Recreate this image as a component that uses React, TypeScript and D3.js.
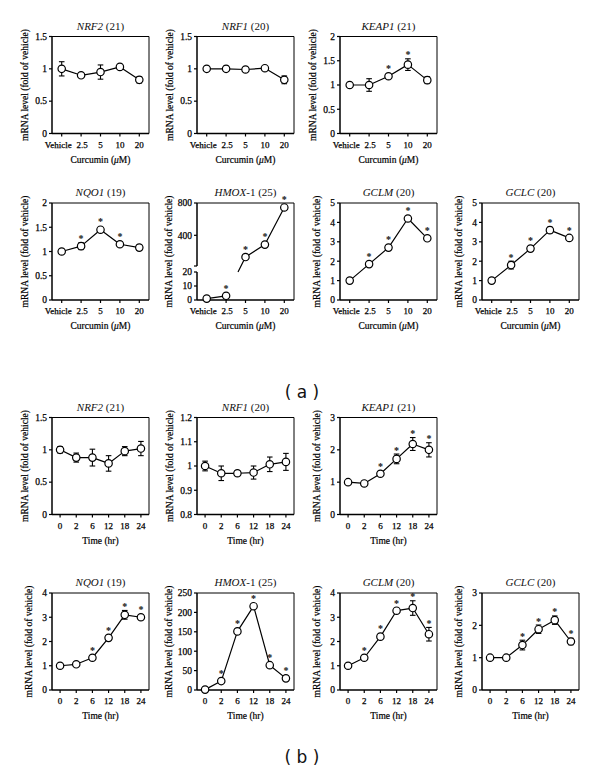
import React from "react";
import * as d3 from "d3";

// ---------- categories / tick labels ----------
const doseLabels = ["Vehicle", "2.5", "5", "10", "20"];
const timeLabels = ["0", "2", "6", "12", "18", "24"];

// ---------- (a) curcumin dose series ----------
const doseNRF2 = [1.0, 0.9, 0.95, 1.03, 0.83];
const doseNRF2Err = [0.11, 0.015, 0.11, 0.015, 0.05];
const doseNRF2Sig = [0, 0, 0, 0, 0];

const doseNRF1 = [1.0, 1.0, 0.99, 1.01, 0.83];
const doseNRF1Err = [0.01, 0.04, 0.03, 0.01, 0.06];
const doseNRF1Sig = [0, 0, 0, 0, 0];

const doseKEAP1 = [1.0, 1.0, 1.18, 1.42, 1.1];
const doseKEAP1Err = [0.01, 0.13, 0.03, 0.12, 0.07];
const doseKEAP1Sig = [0, 0, 1, 1, 0];

const doseNQO1 = [1.0, 1.11, 1.45, 1.15, 1.08];
const doseNQO1Err = [0.01, 0.07, 0.03, 0.02, 0.05];
const doseNQO1Sig = [0, 1, 1, 1, 0];

const doseHMOX1 = [1, 3, 131, 285, 745];
const doseHMOX1Err = [0.3, 0.5, 4, 6, 12];
const doseHMOX1Sig = [0, 1, 1, 1, 1];

const doseGCLM = [1.0, 1.85, 2.7, 4.2, 3.18];
const doseGCLMErr = [0.02, 0.06, 0.06, 0.1, 0.06];
const doseGCLMSig = [0, 1, 1, 1, 1];

const doseGCLC = [1.0, 1.8, 2.65, 3.6, 3.2];
const doseGCLCErr = [0.02, 0.2, 0.08, 0.15, 0.1];
const doseGCLCSig = [0, 1, 1, 1, 1];

// ---------- (b) time course series ----------
const timeNRF2 = [1.0, 0.88, 0.88, 0.79, 0.98, 1.02];
const timeNRF2Err = [0.05, 0.07, 0.13, 0.12, 0.07, 0.11];
const timeNRF2Sig = [0, 0, 0, 0, 0, 0];

const timeNRF1 = [1.0, 0.97, 0.97, 0.973, 1.007, 1.017];
const timeNRF1Err = [0.02, 0.03, 0.01, 0.027, 0.03, 0.035];
const timeNRF1Sig = [0, 0, 0, 0, 0, 0];

const timeKEAP1 = [1.0, 0.96, 1.26, 1.72, 2.18, 2.0];
const timeKEAP1Err = [0.02, 0.07, 0.03, 0.15, 0.2, 0.22];
const timeKEAP1Sig = [0, 0, 1, 1, 1, 1];

const timeNQO1 = [1.0, 1.06, 1.33, 2.15, 3.1, 3.0];
const timeNQO1Err = [0.02, 0.07, 0.05, 0.06, 0.18, 0.1];
const timeNQO1Sig = [0, 0, 1, 1, 1, 1];

const timeHMOX1 = [1, 23, 151, 216, 64, 30];
const timeHMOX1Err = [0.5, 3, 5, 6, 4, 3];
const timeHMOX1Sig = [0, 1, 1, 1, 1, 1];

const timeGCLM = [1.0, 1.33, 2.2, 3.27, 3.38, 2.3];
const timeGCLMErr = [0.02, 0.08, 0.05, 0.05, 0.3, 0.28];
const timeGCLMSig = [0, 1, 1, 1, 1, 1];

const timeGCLC = [1.0, 1.0, 1.39, 1.88, 2.16, 1.5];
const timeGCLCErr = [0.02, 0.02, 0.15, 0.13, 0.13, 0.1];
const timeGCLCSig = [0, 0, 1, 1, 1, 1];

// ---------- axis ticks ----------
const ticks0to15 = [0, 0.5, 1, 1.5];
const ticks0to2 = [0, 0.5, 1, 1.5, 2];
const ticks0to5 = [0, 1, 2, 3, 4, 5];
const ticks0to4 = [0, 1, 2, 3, 4];
const ticks0to3 = [0, 1, 2, 3];
const ticksNRF1b = [0.8, 0.9, 1, 1.1, 1.2];
const ticksHMOXb = [0, 50, 100, 150, 200, 250];
const ticksHMOXaLow = [0, 10, 20];
const ticksHMOXaHigh = [400, 800];

type Spec = {
  gene: string; suffix: string; n: number; row: number; col: number;
  cats: string[]; values: number[]; err: number[]; sig: number[];
  domain: [number, number]; ticks: number[]; xTitle: "dose" | "time"; broken?: boolean;
};

const specs: Spec[] = [
  { gene: "NRF2", suffix: "", n: 21, row: 0, col: 0, cats: doseLabels, values: doseNRF2, err: doseNRF2Err, sig: doseNRF2Sig, domain: [0, 1.5], ticks: ticks0to15, xTitle: "dose" },
  { gene: "NRF1", suffix: "", n: 20, row: 0, col: 1, cats: doseLabels, values: doseNRF1, err: doseNRF1Err, sig: doseNRF1Sig, domain: [0, 1.5], ticks: ticks0to15, xTitle: "dose" },
  { gene: "KEAP1", suffix: "", n: 21, row: 0, col: 2, cats: doseLabels, values: doseKEAP1, err: doseKEAP1Err, sig: doseKEAP1Sig, domain: [0, 2], ticks: ticks0to2, xTitle: "dose" },
  { gene: "NQO1", suffix: "", n: 19, row: 1, col: 0, cats: doseLabels, values: doseNQO1, err: doseNQO1Err, sig: doseNQO1Sig, domain: [0, 2], ticks: ticks0to2, xTitle: "dose" },
  { gene: "HMOX", suffix: "-1", n: 25, row: 1, col: 1, cats: doseLabels, values: doseHMOX1, err: doseHMOX1Err, sig: doseHMOX1Sig, domain: [0, 800], ticks: [], xTitle: "dose", broken: true },
  { gene: "GCLM", suffix: "", n: 20, row: 1, col: 2, cats: doseLabels, values: doseGCLM, err: doseGCLMErr, sig: doseGCLMSig, domain: [0, 5], ticks: ticks0to5, xTitle: "dose" },
  { gene: "GCLC", suffix: "", n: 20, row: 1, col: 3, cats: doseLabels, values: doseGCLC, err: doseGCLCErr, sig: doseGCLCSig, domain: [0, 5], ticks: ticks0to5, xTitle: "dose" },
  { gene: "NRF2", suffix: "", n: 21, row: 2, col: 0, cats: timeLabels, values: timeNRF2, err: timeNRF2Err, sig: timeNRF2Sig, domain: [0, 1.5], ticks: ticks0to15, xTitle: "time" },
  { gene: "NRF1", suffix: "", n: 20, row: 2, col: 1, cats: timeLabels, values: timeNRF1, err: timeNRF1Err, sig: timeNRF1Sig, domain: [0.8, 1.2], ticks: ticksNRF1b, xTitle: "time" },
  { gene: "KEAP1", suffix: "", n: 21, row: 2, col: 2, cats: timeLabels, values: timeKEAP1, err: timeKEAP1Err, sig: timeKEAP1Sig, domain: [0, 3], ticks: ticks0to3, xTitle: "time" },
  { gene: "NQO1", suffix: "", n: 19, row: 3, col: 0, cats: timeLabels, values: timeNQO1, err: timeNQO1Err, sig: timeNQO1Sig, domain: [0, 4], ticks: ticks0to4, xTitle: "time" },
  { gene: "HMOX", suffix: "-1", n: 25, row: 3, col: 1, cats: timeLabels, values: timeHMOX1, err: timeHMOX1Err, sig: timeHMOX1Sig, domain: [0, 250], ticks: ticksHMOXb, xTitle: "time" },
  { gene: "GCLM", suffix: "", n: 20, row: 3, col: 2, cats: timeLabels, values: timeGCLM, err: timeGCLMErr, sig: timeGCLMSig, domain: [0, 4], ticks: ticks0to4, xTitle: "time" },
  { gene: "GCLC", suffix: "", n: 20, row: 3, col: 3, cats: timeLabels, values: timeGCLC, err: timeGCLCErr, sig: timeGCLCSig, domain: [0, 3], ticks: ticks0to3, xTitle: "time" },
];

// ---------- layout ----------
const W = 600, H = 773;
const ROW_TOP = [36.5, 203, 417.5, 593];
const COL_LEFT = [52, 197, 340, 482];
const PW = 97, PH = 97;
const SERIF = "Liberation Serif, Times New Roman, Times, serif";
const TICK_FS = 9.5;
const XTICK_FS = 9;
const R = 3.7;

const tickW = (s: string) => s.split("").reduce((a, c) => a + (c === "." ? 0.25 : 0.5) * TICK_FS, 0);

function Panel({ s }: { s: Spec }) {
  const left = COL_LEFT[s.col];
  const top = ROW_TOP[s.row];
  const bottom = top + PH;
  const right = left + PW;
  const x = d3.scalePoint<string>().domain(s.cats).range([left, right]).padding(0.5);

  let y: (v: number) => number;
  let yTicks: { v: number; label: string }[] = [];
  let lowerTop = 0, upperBottom = 0;
  if (s.broken) {
    lowerTop = bottom - 28;
    upperBottom = top + 63;
    const lower = d3.scaleLinear().domain([0, 20]).range([bottom, lowerTop]);
    const upper = d3.scaleLinear().domain([20, 800]).range([upperBottom, top]);
    y = (v: number) => (v <= 20 ? lower(v) : upper(v));
    yTicks = [...ticksHMOXaLow, ...ticksHMOXaHigh].map((v) => ({ v, label: String(v) }));
  } else {
    const lin = d3.scaleLinear().domain(s.domain).range([bottom, top]);
    y = (v: number) => lin(v);
    yTicks = s.ticks.map((v) => ({ v, label: String(v) }));
  }

  const pts = s.values.map((v, i) => ({ x: x(s.cats[i]) as number, y: y(v), yt: y(v + s.err[i]), yb: y(Math.max(v - s.err[i], 0)), sig: s.sig[i] }));

  const segs: string[] = [];
  for (let i = 0; i < pts.length - 1; i++) {
    const a = pts[i], b = pts[i + 1];
    if (s.broken && s.values[i] <= 20 && s.values[i + 1] > 20) {
      const t = (a.y - lowerTop) / (a.y - b.y);
      const cx = a.x + t * (b.x - a.x);
      segs.push(`M${cx},${lowerTop}L${b.x},${b.y}`);
    } else {
      segs.push(`M${a.x},${a.y}L${b.x},${b.y}`);
    }
  }

  const maxW = Math.max(...yTicks.map((t) => tickW(t.label)));
  const ylabX = left - 18 - maxW * 0.5;
  const cx = (left + right) / 2;

  return (
    <g>
      <text x={cx} y={top - 7} textAnchor="middle" fontFamily={SERIF} fontSize={11} fill="#111">
        <tspan fontStyle="italic">{s.gene}</tspan>
        <tspan>{s.suffix + " (" + s.n + ")"}</tspan>
      </text>
      <line x1={left} x2={right} y1={top} y2={top} stroke="#000" strokeWidth={1} />
      <line x1={right} x2={right} y1={top} y2={bottom} stroke="#000" strokeWidth={1} />
      <line x1={left} x2={right} y1={bottom} y2={bottom} stroke="#000" strokeWidth={1.5} />
      {s.broken ? (
        <g>
          <line x1={left} x2={left} y1={top} y2={upperBottom} stroke="#000" strokeWidth={1.5} />
          <line x1={left - 3} x2={left} y1={upperBottom} y2={upperBottom} stroke="#000" strokeWidth={1.2} />
          <line x1={left} x2={left} y1={lowerTop} y2={bottom} stroke="#000" strokeWidth={1.5} />
        </g>
      ) : (
        <line x1={left} x2={left} y1={top} y2={bottom} stroke="#000" strokeWidth={1.5} />
      )}
      {yTicks.map((t) => (
        <g key={"y" + t.v}>
          <line x1={left - 3} x2={left} y1={y(t.v)} y2={y(t.v)} stroke="#000" strokeWidth={1.2} />
          <text x={left - 5} y={y(t.v) + 3.3} textAnchor="end" fontFamily={SERIF} fontSize={TICK_FS} fill="#000" stroke="#000" strokeWidth={0.25}>{t.label}</text>
        </g>
      ))}
      {s.cats.map((c, i) => (
        <g key={"x" + c}>
          <line x1={x(c)} x2={x(c)} y1={bottom} y2={bottom + 3} stroke="#000" strokeWidth={1.2} />
          <text x={x(c)} dx={c === "Vehicle" ? -3.5 : i === 1 && s.xTitle === "dose" ? 1 : 0} y={bottom + 14} textAnchor="middle" fontFamily={SERIF} fontSize={XTICK_FS} fill="#000" stroke="#000" strokeWidth={0.25}>{c}</text>
        </g>
      ))}
      <text x={cx} y={bottom + 29} textAnchor="middle" fontFamily={SERIF} fontSize={9.5} fill="#000" stroke="#000" strokeWidth={0.2}>
        {s.xTitle === "dose" ? (
          <>
            <tspan>Curcumin (</tspan>
            <tspan fontStyle="italic">μ</tspan>
            <tspan>M)</tspan>
          </>
        ) : (
          "Time (hr)"
        )}
      </text>
      <text transform={`translate(${ylabX},${(top + bottom) / 2}) rotate(-90)`} textAnchor="middle" fontFamily={SERIF} fontSize={9.5} fill="#000" stroke="#000" strokeWidth={0.2}>
        mRNA level (fold of vehicle)
      </text>
      <path d={segs.join("")} fill="none" stroke="#000" strokeWidth={1.2} />
      {pts.map((p, i) => (
        <g key={"e" + i}>
          <line x1={p.x} x2={p.x} y1={p.yt} y2={p.yb} stroke="#000" strokeWidth={1.1} />
          <line x1={p.x - 2.8} x2={p.x + 2.8} y1={p.yt} y2={p.yt} stroke="#000" strokeWidth={1.1} />
          <line x1={p.x - 2.8} x2={p.x + 2.8} y1={p.yb} y2={p.yb} stroke="#000" strokeWidth={1.1} />
        </g>
      ))}
      {pts.map((p, i) => (
        <circle key={"c" + i} cx={p.x} cy={p.y} r={R} fill="#fff" stroke="#000" strokeWidth={1.2} />
      ))}
      {pts.map((p, i) =>
        p.sig ? (
          <text key={"s" + i} x={p.x} y={Math.min(p.yt, p.y - R) - 0.5} textAnchor="middle" fontFamily={SERIF} fontSize={10} fontWeight="bold" fill="#111">*</text>
        ) : null
      )}
    </g>
  );
}

export default function App() {
  return (
    <svg width={W} height={H} viewBox={`0 0 ${W} ${H}`} style={{ position: "absolute", left: 0, top: 0, background: "#fff" }}>
      <rect x={0} y={0} width={W} height={H} fill="#fff" />
      {specs.map((s, i) => (
        <Panel key={i} s={s} />
      ))}
      <text x={302} y={398} textAnchor="middle" fontFamily="DejaVu Sans, sans-serif" fontSize={17} fill="#111">( a )</text>
      <text x={302} y={763} textAnchor="middle" fontFamily="DejaVu Sans, sans-serif" fontSize={17} fill="#111">( b )</text>
    </svg>
  );
}
